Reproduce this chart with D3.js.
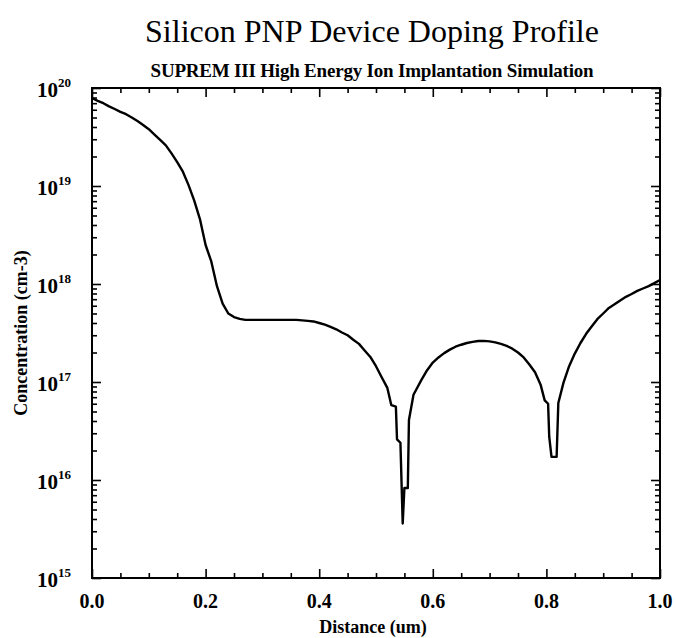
<!DOCTYPE html>
<html>
<head>
<meta charset="utf-8">
<script src="https://cdn.jsdelivr.net/npm/d3@7"></script>
<style>
  html, body { margin: 0; padding: 0; background: #fff; }
  svg { display: block; }
  text { font-family: "Liberation Serif", "Times New Roman", serif; fill: #000; }
</style>
</head>
<body>
<svg id="chart" width="676" height="638"></svg>
<script>
// Depth below the surface (um)
const distance = [
  0.00, 0.01, 0.02, 0.03, 0.04, 0.05, 0.06, 0.07, 0.08, 0.09,
  0.10, 0.11, 0.12, 0.13, 0.14, 0.15, 0.16, 0.17, 0.18, 0.19,
  0.20, 0.21, 0.22, 0.23, 0.24, 0.25, 0.26, 0.27, 0.28, 0.29,
  0.30, 0.31, 0.32, 0.33, 0.34, 0.35, 0.36, 0.37, 0.38, 0.39,
  0.40, 0.41, 0.42, 0.43, 0.44, 0.45, 0.46, 0.47, 0.48, 0.49,
  0.50, 0.51, 0.52, 0.527, 0.535, 0.537, 0.543, 0.547, 0.550, 0.556,
  0.558, 0.566, 0.57, 0.58, 0.59, 0.60, 0.61, 0.62, 0.63, 0.64,
  0.65, 0.66, 0.67, 0.68, 0.69, 0.70, 0.71, 0.72, 0.73, 0.74,
  0.75, 0.76, 0.77, 0.78, 0.79, 0.797, 0.803, 0.805, 0.809, 0.818,
  0.821, 0.83, 0.84, 0.85, 0.86, 0.87, 0.88, 0.89, 0.90, 0.91,
  0.92, 0.93, 0.94, 0.95, 0.96, 0.97, 0.98, 0.99, 1.00
];

// Net doping concentration (cm-3)
const concentration = [
  7.9e19, 7.4e19, 7.0e19, 6.5e19, 6.1e19, 5.7e19, 5.4e19, 5.0e19, 4.6e19, 4.2e19,
  3.8e19, 3.35e19, 2.95e19, 2.6e19, 2.15e19, 1.75e19, 1.4e19, 1.02e19, 7.1e18, 4.6e18,
  2.5e18, 1.7e18, 9.5e17, 6.3e17, 5.0e17, 4.6e17, 4.4e17, 4.3e17, 4.3e17, 4.3e17,
  4.3e17, 4.3e17, 4.3e17, 4.3e17, 4.3e17, 4.3e17, 4.3e17, 4.25e17, 4.2e17, 4.15e17,
  4.0e17, 3.85e17, 3.65e17, 3.45e17, 3.2e17, 3.0e17, 2.7e17, 2.45e17, 2.1e17, 1.8e17,
  1.45e17, 1.12e17, 8.7e16, 5.8e16, 5.6e16, 2.6e16, 2.4e16, 3.6e15, 8.3e15, 8.3e15,
  4.1e16, 7.4e16, 8.2e16, 1.05e17, 1.32e17, 1.58e17, 1.78e17, 1.97e17, 2.14e17, 2.29e17,
  2.4e17, 2.5e17, 2.57e17, 2.62e17, 2.63e17, 2.6e17, 2.54e17, 2.45e17, 2.34e17, 2.19e17,
  2.0e17, 1.78e17, 1.51e17, 1.26e17, 9.3e16, 6.5e16, 6.0e16, 2.75e16, 1.72e16, 1.72e16,
  6.1e16, 9.8e16, 1.45e17, 1.95e17, 2.5e17, 3.1e17, 3.7e17, 4.4e17, 5.0e17, 5.7e17,
  6.2e17, 6.8e17, 7.4e17, 7.9e17, 8.5e17, 9.0e17, 9.5e17, 1.02e18, 1.1e18
];

const xMajorTicks = [0.0, 0.2, 0.4, 0.6, 0.8, 1.0];
const xMinorTicks = [0.05, 0.1, 0.15, 0.25, 0.3, 0.35, 0.45, 0.5, 0.55, 0.65, 0.7, 0.75, 0.85, 0.9, 0.95];
const yExponents = [15, 16, 17, 18, 19, 20];

const titleText = "Silicon PNP Device Doping Profile";
const subtitleText = "SUPREM III High Energy Ion Implantation Simulation";
const xLabelText = "Distance (um)";
const yLabelText = "Concentration (cm-3)";

const svg = d3.select("#chart");
const plot = { left: 92, right: 660, top: 88, bottom: 578 };

const x = d3.scaleLinear().domain([0, 1]).range([plot.left, plot.right]);
const y = d3.scaleLog().domain([1e15, 1e20]).range([plot.bottom, plot.top]);

const yMajor = yExponents.map(e => Math.pow(10, e));
const yMinor = [];
yExponents.slice(0, -1).forEach(e => {
  for (let m = 2; m <= 9; m++) yMinor.push(m * Math.pow(10, e));
});

// Titles
svg.append("text")
  .attr("x", 372).attr("y", 42)
  .attr("text-anchor", "middle")
  .style("font-size", "32px")
  .text(titleText);

svg.append("text")
  .attr("x", 372).attr("y", 77)
  .attr("text-anchor", "middle")
  .style("font-size", "19px").style("font-weight", "bold")
  .style("letter-spacing", "-0.2px")
  .text(subtitleText);

// Tick marks on all four sides, pointing into the frame
const majorLen = 9, minorLen = 5;
function styleAxis(g) {
  g.select(".domain").remove();
  g.selectAll(".tick line").attr("stroke", "#000").attr("stroke-width", 1.6);
  g.selectAll(".tick text").remove();
}

svg.append("g").attr("transform", `translate(0,${plot.bottom})`)
  .call(d3.axisBottom(x).tickValues(xMajorTicks).tickSize(-majorLen)).call(styleAxis);
svg.append("g").attr("transform", `translate(0,${plot.bottom})`)
  .call(d3.axisBottom(x).tickValues(xMinorTicks).tickSize(-minorLen)).call(styleAxis);
svg.append("g").attr("transform", `translate(0,${plot.top})`)
  .call(d3.axisTop(x).tickValues(xMajorTicks).tickSize(-majorLen)).call(styleAxis);
svg.append("g").attr("transform", `translate(0,${plot.top})`)
  .call(d3.axisTop(x).tickValues(xMinorTicks).tickSize(-minorLen)).call(styleAxis);

svg.append("g").attr("transform", `translate(${plot.left},0)`)
  .call(d3.axisLeft(y).tickValues(yMajor).tickSize(-majorLen)).call(styleAxis);
svg.append("g").attr("transform", `translate(${plot.left},0)`)
  .call(d3.axisLeft(y).tickValues(yMinor).tickSize(-minorLen)).call(styleAxis);
svg.append("g").attr("transform", `translate(${plot.right},0)`)
  .call(d3.axisRight(y).tickValues(yMajor).tickSize(-majorLen)).call(styleAxis);
svg.append("g").attr("transform", `translate(${plot.right},0)`)
  .call(d3.axisRight(y).tickValues(yMinor).tickSize(-minorLen)).call(styleAxis);

// Frame
svg.append("rect")
  .attr("x", plot.left).attr("y", plot.top)
  .attr("width", plot.right - plot.left).attr("height", plot.bottom - plot.top)
  .attr("fill", "none").attr("stroke", "#000").attr("stroke-width", 2);

// X tick labels
svg.append("g").selectAll("text").data(xMajorTicks).join("text")
  .attr("x", d => x(d)).attr("y", plot.bottom + 30)
  .attr("text-anchor", "middle")
  .style("font-size", "20px").style("font-weight", "bold")
  .text(d => d.toFixed(1));

// Y tick labels as powers of ten
const yl = svg.append("g").selectAll("text").data(yExponents).join("text")
  .attr("x", plot.left - 21).attr("y", e => y(Math.pow(10, e)) + 9)
  .attr("text-anchor", "end")
  .style("font-size", "21px").style("font-weight", "bold");
yl.append("tspan").text("10");
yl.append("tspan").attr("dy", -10).style("font-size", "13px").text(e => e);

// Axis titles
svg.append("text")
  .attr("x", 373).attr("y", 633)
  .attr("text-anchor", "middle")
  .style("font-size", "18px").style("font-weight", "bold")
  .text(xLabelText);

svg.append("text")
  .attr("transform", `translate(27,${(plot.top + plot.bottom) / 2}) rotate(-90)`)
  .attr("text-anchor", "middle")
  .style("font-size", "18px").style("font-weight", "bold")
  .text(yLabelText);

// Doping profile
const points = distance.map((d, i) => [d, concentration[i]]);
svg.append("path")
  .datum(points)
  .attr("fill", "none")
  .attr("stroke", "#000")
  .attr("stroke-width", 2.4)
  .attr("stroke-linejoin", "round")
  .attr("d", d3.line().x(d => x(d[0])).y(d => y(d[1])));
</script>
</body>
</html>
